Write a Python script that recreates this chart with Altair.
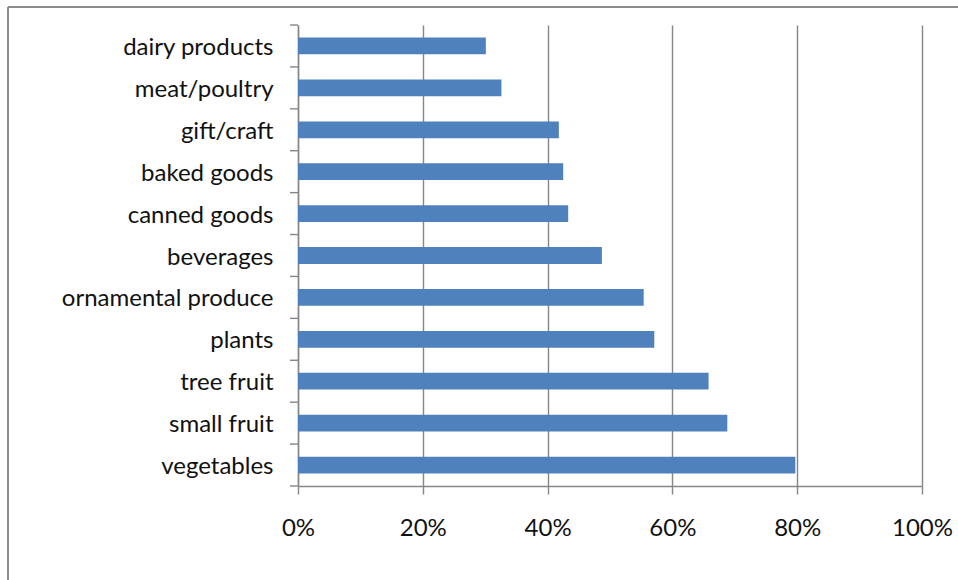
import altair as alt
import pandas as pd

categories = ["dairy products", "meat/poultry", "gift/craft", "baked goods", "canned goods",
              "beverages", "ornamental produce", "plants", "tree fruit", "small fruit", "vegetables"]
values = [0.301, 0.326, 0.418, 0.425, 0.433, 0.487, 0.554, 0.571, 0.658, 0.688, 0.797]
x_ticks = [0, 0.2, 0.4, 0.6, 0.8, 1.0]

df = pd.DataFrame({"category": categories, "value": values})
df["last"] = [i == len(categories) - 1 for i in range(len(categories))]

FONT = "Lato"
GRAY = "#868686"
FS = 24

yscale = alt.Scale(domain=categories, paddingInner=0, paddingOuter=0)

bars = alt.Chart(df).mark_bar(color="#4F81BD", height={"band": 0.4}).encode(
    x=alt.X("value:Q",
            scale=alt.Scale(domain=[0, 1], nice=False),
            axis=alt.Axis(values=x_ticks, format=".0%", title=None, grid=True,
                          gridColor=GRAY, gridWidth=1.4, domainColor=GRAY, domainWidth=1.4,
                          tickColor=GRAY, tickSize=8, tickWidth=1.4,
                          labelFont=FONT, labelFontSize=FS, labelColor="#111111",
                          labelPadding=22, labelFlush=False)),
    y=alt.Y("category:N", sort=categories, scale=yscale,
            axis=alt.Axis(title=None, ticks=False, domainColor=GRAY, domainWidth=1.4,
                          labelFont=FONT, labelFontSize=FS, labelColor="#111111",
                          labelPadding=25, labelLimit=300, labelOffset=2)),
)

ticks_top = alt.Chart(df).mark_rule(color=GRAY, strokeWidth=1.4).encode(
    y=alt.Y("category:N", sort=categories, scale=yscale, bandPosition=0),
    x=alt.value(-8), x2=alt.value(0),
)
ticks_bottom = alt.Chart(df).transform_filter(alt.datum.last).mark_rule(color=GRAY, strokeWidth=1.4).encode(
    y=alt.Y("category:N", sort=categories, scale=yscale, bandPosition=1),
    x=alt.value(-8), x2=alt.value(0),
)

border_left = alt.Chart(df).transform_filter(alt.datum.last).mark_rule(color="#8c8c8c", strokeWidth=2, clip=False).encode(
    x=alt.value(-290), y=alt.value(-18), y2=alt.value(560),
)
border_top = alt.Chart(df).transform_filter(alt.datum.last).mark_rule(color="#8c8c8c", strokeWidth=2, clip=False).encode(
    x=alt.value(-290), x2=alt.value(700), y=alt.value(-18),
)

chart = alt.layer(bars, ticks_top, ticks_bottom, border_left, border_top).properties(
    width=624, height=461,
    padding={"left": 298, "top": 25, "right": 36, "bottom": 94},
    autosize=alt.AutoSizeParams(type="none"),
    background="white",
).configure_view(stroke=None)

chart.save("out.html", embed_options={"renderer": "svg", "actions": False})
